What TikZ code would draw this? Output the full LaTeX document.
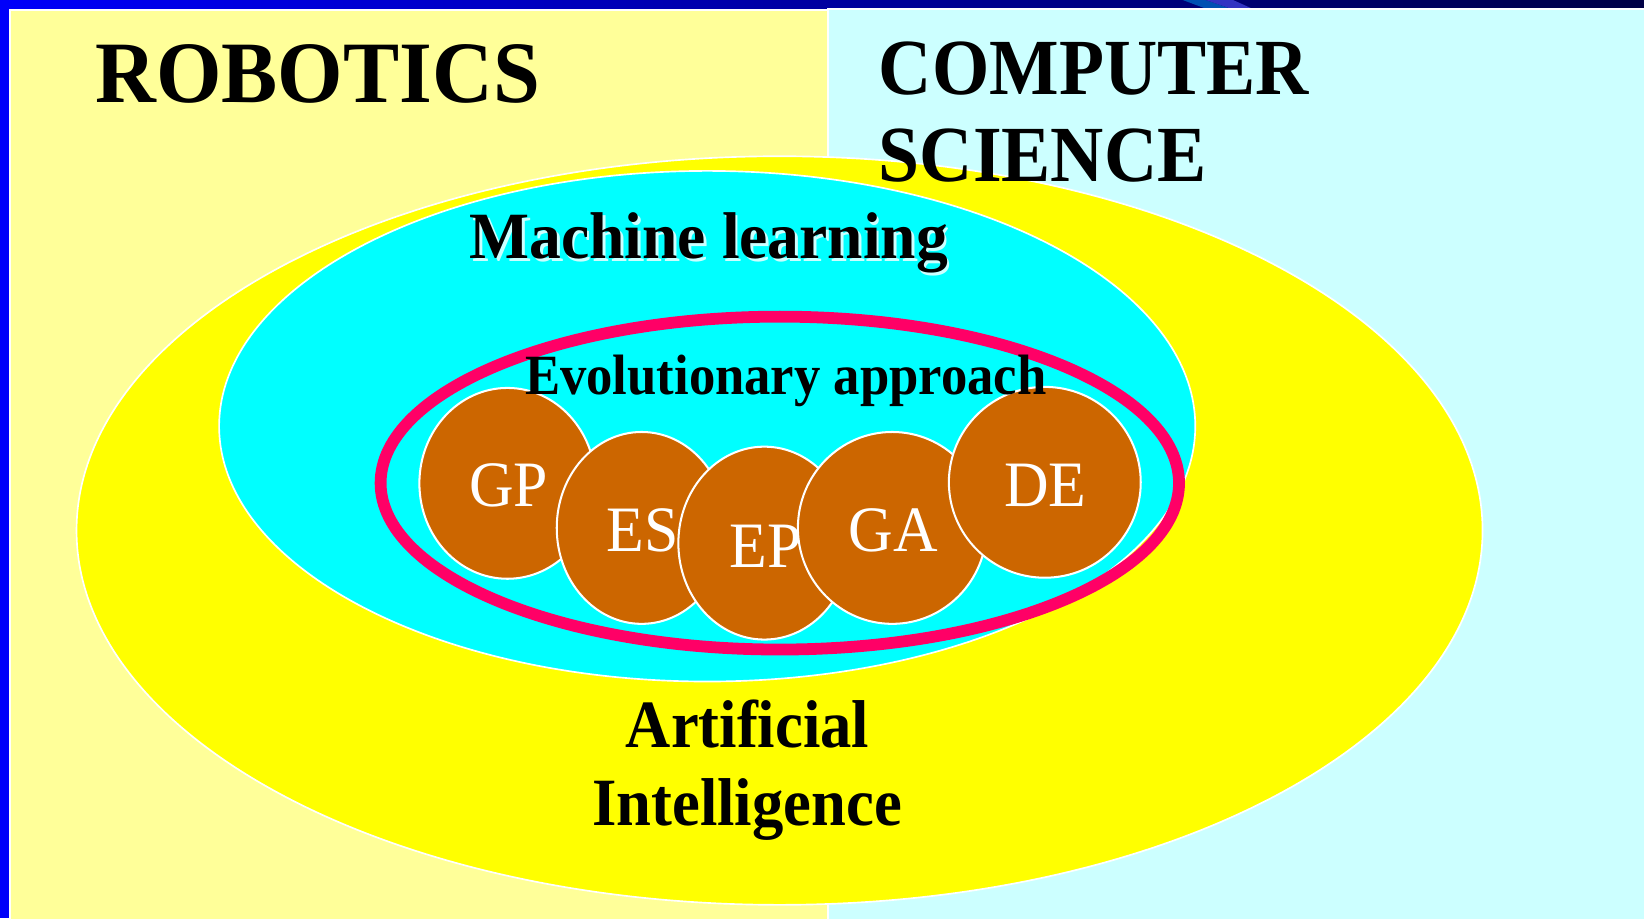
\documentclass[tikz,border=0pt]{standalone}
\usepackage{fontspec}
\setmainfont{Liberation Serif}
\usepackage{graphicx}

\definecolor{frameblue}{RGB}{0,0,250}
\definecolor{barnavy}{RGB}{0,0,70}
\definecolor{robpanel}{RGB}{255,255,153}
\definecolor{cspanel}{RGB}{204,255,255}
\definecolor{aiyellow}{RGB}{255,255,0}
\definecolor{mlcyan}{RGB}{0,255,255}
\definecolor{evopink}{RGB}{255,0,102}
\definecolor{algobrown}{RGB}{204,102,0}

% vertical stretch of a text line
\newcommand{\tallish}[2]{\scalebox{1}[#1]{#2}}

\tikzset{
  field/.style={inner sep=0pt, anchor=base, text=black,
    font=\bfseries\fontsize{#1}{#1}\selectfont},
  algo/.style={draw=white, line width=1.1pt, fill=algobrown},
  algolabel/.style={inner sep=0pt, anchor=base, text=white,
    font=\fontsize{33.5}{33.5}\selectfont},
  region/.style={draw=white, line width=0.9pt},
}

\begin{document}
\begin{tikzpicture}[x=0.02cm, y=-0.02cm]
  \useasboundingbox (0,0) rectangle (1568,876);

  % frame and title bar
  \fill[frameblue] (0,0) rectangle (1568,876);
  \shade[left color=frameblue, right color=barnavy] (0,0) rectangle (1568,9);
  \fill[blue!55!cyan!70!black] (1128,0) -- (1150,0) -- (1176,9) -- (1152,9) -- cycle;
  \fill[blue!70!black!80] (1150,0) -- (1176,0) -- (1196,9) -- (1176,9) -- cycle;

  % the two background fields
  \path[region, fill=robpanel] (9.5,9.5) rectangle (790,880);
  \path[region, fill=cspanel] (790,8.5) rectangle (1575,880);

  % nested regions
  \path[region, fill=aiyellow] (743.5,506) ellipse [x radius=670.5, y radius=357];
  \path[region, fill=mlcyan] (674.5,406.5) ellipse [x radius=465.5, y radius=243.5];
  \draw[evopink, line width=6.4pt] (743.75,460.75) ellipse [x radius=380.75, y radius=158.75];

  % evolutionary algorithms
  \path[algo] (484,461) ellipse [x radius=84, y radius=91];
  \path[algo] (612,503.5) ellipse [x radius=81, y radius=91.5];
  \path[algo] (729,518) ellipse [x radius=82, y radius=92];
  \path[algo] (851,503.5) ellipse [x radius=90, y radius=91.5];
  \path[algo] (996.5,460) ellipse [x radius=91.5, y radius=91];

  \node[algolabel] (gp) at (485,483) {\tallish{1.05}{GP}};
  \node[algolabel] (es) at (613,526) {\tallish{1.05}{ES}};
  \node[algolabel] (ep) at (730,541) {\tallish{1.05}{EP}};
  \node[algolabel] (ga) at (852,526) {\tallish{1.05}{GA}};
  \node[algolabel] (de) at (997,483) {\tallish{1.05}{DE}};

  % field titles
  \node[field=45.7] (robotics) at (303,98) {\tallish{1.04}{ROBOTICS}};
  \node[field=40, anchor=base west] (cs1) at (838,90) {\tallish{1.08}{COMPUTER}};
  \node[field=40, anchor=base west] (cs2) at (838,173) {\tallish{1.08}{SCIENCE}};

  \node[field=34.5, text=white, opacity=0.8] (mlshadow) at (678.5,249.5) {\tallish{1.04}{Machine learning}};
  \node[field=34.5] (ml) at (676,247) {\tallish{1.04}{Machine learning}};

  \node[field=28.6] (evo) at (749.5,376) {\tallish{1.08}{Evolutionary approach}};

  \node[field=34] (ai1) at (713,713) {\tallish{1.08}{Artificial}};
  \node[field=34] (ai2) at (712.5,787) {\tallish{1.08}{Intelligence}};
\end{tikzpicture}
\end{document}
